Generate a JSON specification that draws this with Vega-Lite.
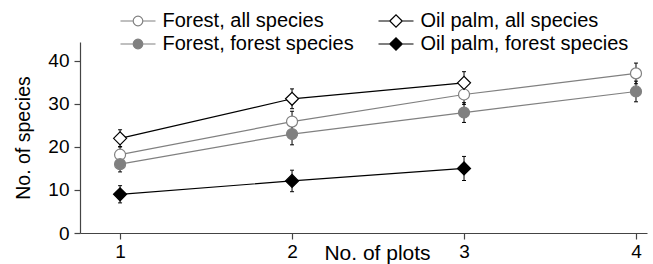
{
  "$schema": "https://vega.github.io/schema/vega-lite/v6.json",
  "width": 567,
  "height": 191,
  "autosize": "none",
  "padding": {"left": 80, "top": 42, "right": 6, "bottom": 31},
  "background": "white",
  "config": {
    "view": {"stroke": null},
    "font": "Liberation Sans",
    "axis": {"grid": false, "domainColor": "#444", "tickColor": "#444", "labelColor": "black", "titleColor": "black", "labelFont": "Liberation Sans", "titleFont": "Liberation Sans", "titleFontWeight": "normal", "labelFontSize": 19, "titleFontSize": 19.5, "tickSize": 6, "domainWidth": 1.2, "tickWidth": 1.2}
  },
  "data": {
    "values": [
      {"series": "Forest, all species", "plots": 1, "mean": 18.2, "lo": 16.3, "hi": 20.1},
      {"series": "Forest, all species", "plots": 2, "mean": 25.9, "lo": 23.5, "hi": 28.3},
      {"series": "Forest, all species", "plots": 3, "mean": 32.2, "lo": 29.9, "hi": 34.5},
      {"series": "Forest, all species", "plots": 4, "mean": 37.1, "lo": 34.7, "hi": 39.5},
      {"series": "Forest, forest species", "plots": 1, "mean": 16.0, "lo": 14.2, "hi": 17.8},
      {"series": "Forest, forest species", "plots": 2, "mean": 23.0, "lo": 20.5, "hi": 25.5},
      {"series": "Forest, forest species", "plots": 3, "mean": 28.0, "lo": 25.7, "hi": 30.3},
      {"series": "Forest, forest species", "plots": 4, "mean": 32.9, "lo": 30.5, "hi": 35.3},
      {"series": "Oil palm, all species", "plots": 1, "mean": 22.0, "lo": 20.0, "hi": 24.0},
      {"series": "Oil palm, all species", "plots": 2, "mean": 31.2, "lo": 28.9, "hi": 33.5},
      {"series": "Oil palm, all species", "plots": 3, "mean": 34.9, "lo": 32.3, "hi": 37.5},
      {"series": "Oil palm, forest species", "plots": 1, "mean": 9.0, "lo": 7.0, "hi": 11.0},
      {"series": "Oil palm, forest species", "plots": 2, "mean": 12.1, "lo": 9.6, "hi": 14.6},
      {"series": "Oil palm, forest species", "plots": 3, "mean": 15.0, "lo": 12.2, "hi": 17.8}
    ]
  },
  "encoding": {
    "x": {
      "field": "plots", "type": "quantitative",
      "scale": {"domain": [0.767, 4.064], "nice": false, "zero": false},
      "axis": {"values": [1, 2, 3, 4], "format": "d", "labelPadding": 3, "title": "No. of plots", "titleFontSize": 21, "titleX": 297, "titleY": 26, "titleAlign": "center", "titleBaseline": "alphabetic", "titleAnchor": null}
    },
    "y": {
      "field": "mean", "type": "quantitative",
      "scale": {"domain": [0, 44.4], "nice": false, "zero": false},
      "axis": {"values": [0, 10, 20, 30, 40], "labelPadding": 5, "title": "No. of species", "titlePadding": 14}
    }
  },
  "layer": [
    {
      "mark": {"type": "rule", "color": "black", "strokeWidth": 1},
      "encoding": {"y": {"field": "lo", "type": "quantitative"}, "y2": {"field": "hi"}, "detail": {"field": "series"}}
    },
    {
      "mark": {"type": "tick", "orient": "horizontal", "size": 4, "thickness": 1, "color": "black", "opacity": 1},
      "encoding": {"y": {"field": "lo", "type": "quantitative"}}
    },
    {
      "mark": {"type": "tick", "orient": "horizontal", "size": 4, "thickness": 1, "color": "black", "opacity": 1},
      "encoding": {"y": {"field": "hi", "type": "quantitative"}}
    },
    {
      "mark": {"type": "line", "strokeWidth": 1.2},
      "encoding": {
        "stroke": {"field": "series", "type": "nominal",
          "scale": {"domain": ["Forest, all species", "Forest, forest species", "Oil palm, all species", "Oil palm, forest species"], "range": ["#808080", "#808080", "black", "black"]}}
      }
    },
    {
      "transform": [{"filter": "indexof(datum.series, 'Forest') === 0"}],
      "mark": {"type": "point", "shape": "circle", "size": 121, "strokeWidth": 1.2, "opacity": 1},
      "encoding": {
        "stroke": {"field": "series", "type": "nominal"},
        "fill": {"field": "series", "type": "nominal",
          "scale": {"domain": ["Forest, all species", "Forest, forest species", "Oil palm, all species", "Oil palm, forest species"], "range": ["white", "#808080", "white", "black"]}}
      }
    },
    {
      "transform": [{"filter": "indexof(datum.series, 'Oil') === 0"}],
      "mark": {"type": "point", "shape": "diamond", "size": 169, "strokeWidth": 1.2, "opacity": 1},
      "encoding": {
        "stroke": {"field": "series", "type": "nominal"},
        "fill": {"field": "series", "type": "nominal"}
      }
    },
    {
      "mark": {"type": "point", "size": 0, "strokeWidth": 1.2, "opacity": 1},
      "encoding": {
        "stroke": {"field": "series", "type": "nominal"},
        "fill": {"field": "series", "type": "nominal"},
        "shape": {"field": "series", "type": "nominal",
          "scale": {"domain": ["Forest, all species", "Forest, forest species", "Oil palm, all species", "Oil palm, forest species"],
            "range": [
              "M-3.5,0H-0.96M0.96,0H3.5M-0.96,0A0.96,0.96,0,1,1,0.96,0A0.96,0.96,0,1,1,-0.96,0Z",
              "M-3.5,0H-0.96M0.96,0H3.5M-0.96,0A0.96,0.96,0,1,1,0.96,0A0.96,0.96,0,1,1,-0.96,0Z",
              "M-3.5,0H-1.24M1.24,0H3.5M-1.24,0L0,-1.24L1.24,0L0,1.24Z",
              "M-3.5,0H-1.24M1.24,0H3.5M-1.24,0L0,-1.24L1.24,0L0,1.24Z"
            ]},
          "legend": {"title": null, "orient": "none", "legendX": 48, "legendY": -31, "columns": 2, "columnPadding": 22, "rowPadding": 3, "symbolSize": 100, "symbolStrokeWidth": 1.2, "symbolOpacity": 1, "labelFont": "Liberation Sans", "labelFontSize": 20, "labelColor": "black", "labelOffset": 14.5, "labelLimit": 400}
        }
      }
    }
  ]
}
